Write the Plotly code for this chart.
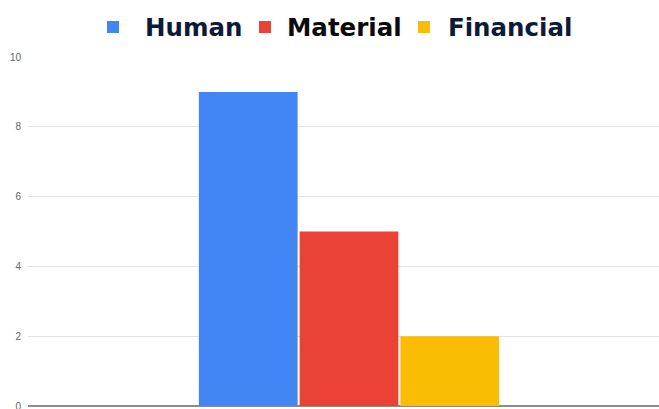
import plotly.graph_objects as go

# Resource counts by type
categories = [""]
series_names = ["Human", "Material", "Financial"]
series_values = [[9], [5], [2]]
series_colors = ["#4285f4", "#ea4335", "#fbbc04"]
legend_text_colors = ["#0d1a3a", "#0a0a0a", "#0d1a3a"]
y_ticks = [0, 2, 4, 6, 8, 10]

# one legend box per series so each key sits at its own spot
legend_ids = ["legend", "legend2", "legend3"]
legend_x = [0.0840, 0.3407, 0.5895]
legend_itemwidth = [54, 34, 38]

fig = go.Figure()
for name, vals, col, tcol, lid in zip(series_names, series_values, series_colors,
                                      legend_text_colors, legend_ids):
    fig.add_trace(go.Bar(
        x=categories,
        y=vals,
        name=f"<span style='color:{tcol}'>{name}</span>",
        marker=dict(color=col, line=dict(width=0)),
        legend=lid,
    ))

legend_style = dict(
    orientation="h",
    xanchor="left",
    y=1.086,
    yanchor="middle",
    font=dict(family="DejaVu Sans", size=24.5, color="#0d1a3a", weight="bold"),
    bgcolor="rgba(0,0,0,0)",
)

fig.update_layout(
    width=659,
    height=409,
    margin=dict(l=28, r=0, t=57, b=3),
    paper_bgcolor="white",
    plot_bgcolor="white",
    barmode="group",
    bargap=0.521,
    bargroupgap=0.02,
    showlegend=True,
    xaxis=dict(
        range=[-0.5087, 0.4913],
        showticklabels=False,
        showgrid=False,
        zeroline=False,
        showline=False,
        fixedrange=True,
    ),
    yaxis=dict(
        range=[0, 10],
        tickvals=y_ticks,
        ticktext=[str(v) for v in y_ticks],
        tickfont=dict(family="Arial", size=10, color="#666666"),
        ticklabeloverflow="allow",
        automargin=False,
        showgrid=True,
        gridcolor="#e3e3e3",
        gridwidth=1,
        zeroline=True,
        zerolinecolor="#8c8c8c",
        zerolinewidth=2,
        showline=False,
        ticks="",
        ticklabelstandoff=6,
    ),
)
for lid, lx, iw in zip(legend_ids, legend_x, legend_itemwidth):
    fig.update_layout({lid: dict(legend_style, x=lx, itemwidth=iw)})

fig.write_html("out.html")
